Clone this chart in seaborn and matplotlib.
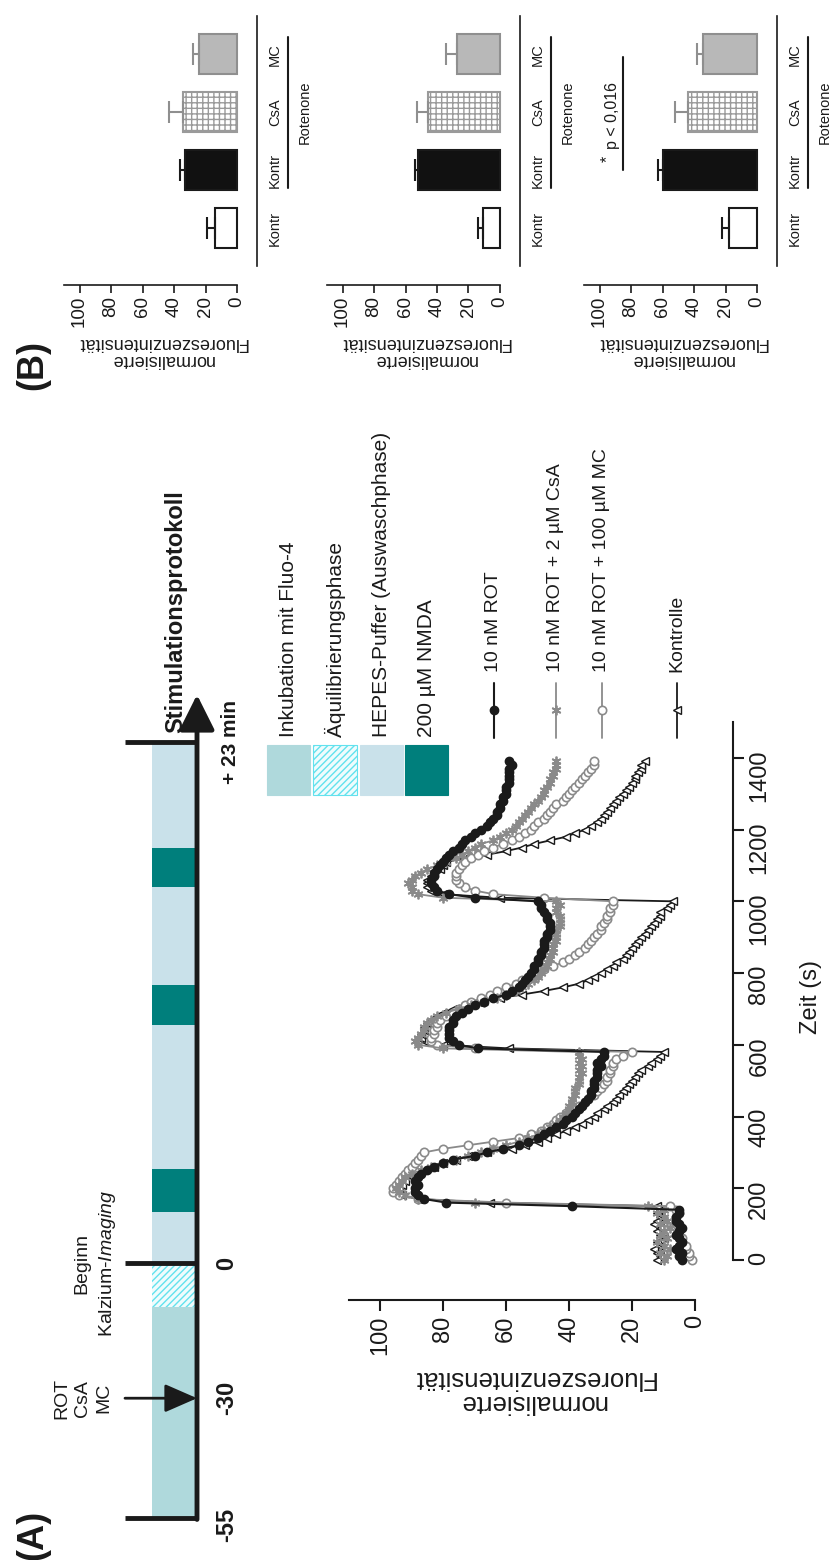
import numpy as np
import pandas as pd
import matplotlib
matplotlib.use("Agg")
import matplotlib.pyplot as plt
import seaborn as sns
from matplotlib.lines import Line2D
from matplotlib.patches import Rectangle

# ---------------------------------------------------------------- data
frame_interval = 10          # s between frames
n_frames = 140
time_s = np.arange(n_frames) * frame_interval

rot = [4, 5, 4, 6, 5, 4, 5, 6, 5, 4, 5, 6, 6, 5, 5,
       39, 79, 86, 88, 89, 89, 88, 89, 88, 87, 85, 83, 80, 77, 70,
       66, 61, 56, 53, 50, 48, 46, 44, 42, 41, 39, 38, 37, 36, 35,
       34, 33, 33, 32, 32, 32, 31, 31, 31, 30, 31, 30, 29, 29, 69,
       75, 77, 78, 78, 78, 78, 77, 77, 76, 74, 72, 70, 67, 64, 60,
       58, 56, 55, 54, 53, 52, 51, 51, 50, 50, 49, 49, 48, 48, 48,
       47, 47, 46, 46, 46, 47, 47, 48, 49, 49, 50, 70, 78, 82, 83,
       84, 84, 83, 83, 82, 81, 80, 79, 78, 77, 75, 74, 73, 71, 70,
       68, 66, 65, 64, 63, 63, 62, 62, 61, 61, 60, 60, 60, 59, 59,
       59, 59, 59, 58, 59]

rot_csa = [10, 9, 11, 8, 10, 12, 9, 11, 10, 8, 11, 9, 10, 12, 10,
           15, 70, 88, 92, 94, 95, 94, 93, 92, 90, 87, 84, 80, 76, 72,
           68, 64, 60, 56, 53, 50, 48, 46, 44, 43, 42, 41, 40, 40, 39,
           39, 38, 38, 38, 37, 37, 37, 36, 37, 36, 37, 36, 37, 37, 80,
           88, 89, 88, 87, 86, 86, 85, 84, 82, 79, 75, 71, 67, 63, 60,
           57, 55, 53, 51, 50, 49, 48, 47, 47, 46, 46, 45, 45, 45, 44,
           44, 44, 44, 43, 43, 43, 43, 44, 44, 43, 44, 80, 88, 90, 90,
           91, 90, 89, 87, 85, 82, 79, 76, 74, 72, 70, 68, 64, 62, 60,
           58, 57, 56, 55, 54, 53, 52, 51, 50, 49, 48, 48, 47, 46, 46,
           45, 45, 44, 44, 44]

rot_mc = [1, 2, 2, 3, 3, 4, 4, 5, 5, 5, 6, 6, 6, 5, 6,
          8, 60, 88, 94, 96, 96, 95, 94, 93, 92, 91, 90, 89, 88, 87,
          86, 80, 72, 64, 56, 52, 49, 47, 45, 44, 43, 41, 39, 37, 35,
          34, 32, 31, 30, 29, 28, 28, 27, 27, 26, 26, 25, 23, 20, 70,
          82, 84, 84, 83, 83, 82, 82, 81, 79, 77, 75, 73, 71, 68, 65,
          63, 60, 57, 55, 53, 51, 48, 45, 42, 40, 38, 37, 35, 34, 33,
          32, 31, 30, 30, 29, 28, 28, 27, 27, 26, 26, 48, 64, 70, 73,
          75, 76, 76, 76, 75, 74, 73, 71, 69, 67, 64, 61, 58, 56, 54,
          52, 51, 50, 48, 47, 46, 45, 44, 42, 41, 40, 39, 38, 37, 36,
          35, 34, 33, 32, 32]

kontrolle = [12, 11, 12, 13, 11, 12, 10, 11, 12, 11, 13, 12, 11, 12, 11,
             12, 65, 88, 93, 94, 94, 93, 92, 90, 88, 86, 83, 80, 76, 72,
             66, 58, 54, 50, 47, 44, 41, 38, 36, 34, 32, 31, 29, 28, 26,
             25, 24, 23, 22, 21, 20, 19, 18, 17, 15, 14, 12, 11, 10, 59,
             80, 86, 87, 87, 86, 86, 85, 84, 82, 80, 77, 73, 69, 62, 55,
             48, 42, 37, 34, 32, 30, 28, 26, 25, 23, 22, 21, 20, 19, 18,
             17, 16, 15, 14, 13, 12, 11, 11, 9, 8, 7, 62, 80, 84, 85,
             85, 85, 84, 83, 81, 80, 79, 73, 66, 60, 55, 51, 46, 41, 38,
             35, 33, 31, 30, 29, 28, 27, 26, 25, 24, 23, 22, 21, 20, 19,
             19, 18, 17, 17, 16]

series_labels = ["10 nM ROT", "10 nM ROT + 2 µM CsA",
                 "10 nM ROT + 100 µM MC", "Kontrolle"]

# stimulation protocol, schematic axis units (0 = start of calcium imaging)
protocol_phase = ["inkubation", "aequilibrierung", "hepes", "nmda", "hepes",
                  "nmda", "hepes", "nmda", "hepes"]
protocol_edges = [-675, -117, 0, 135, 250, 630, 735, 995, 1100, 1380]
protocol_ticks = [-675, -358, 0, 1380]
protocol_ticklabels = ["-55", "-30", "0", "+ 23 min"]

phase_keys = ["inkubation", "aequilibrierung", "hepes", "nmda"]
phase_labels = ["Inkubation mit Fluo-4", "Äquilibrierungsphase",
                "HEPES-Puffer (Auswaschphase)", "200 µM NMDA"]

# panel B: residual fluorescence after each stimulation
bar_groups = ["Kontrolle", "Rotenon", "Rotenon + CsA", "Rotenon + MC"]
bar_ticklabels = ["Kontr", "Kontr", "CsA", "MC"]
stim1_mean = [14, 33, 34, 24]
stim1_sem = [5, 3, 9, 4]
stim2_mean = [11, 52, 46, 27]
stim2_sem = [3, 2, 7, 7]
stim3_mean = [18, 59.5, 44, 34]
stim3_sem = [4, 3.5, 8, 4]

# ---------------------------------------------------------------- style
sns.set_theme(style="ticks")
plt.rcParams["font.family"] = ["Liberation Sans", "DejaVu Sans"]
plt.rcParams["mathtext.fontset"] = "custom"
plt.rcParams["mathtext.rm"] = "Liberation Sans"
plt.rcParams["mathtext.it"] = "Liberation Sans:italic"
plt.rcParams["hatch.linewidth"] = 1.0
plt.rcParams["axes.edgecolor"] = "#1a1a1a"
INK = "#1a1a1a"
GREY = "#8a8a8a"

phase_style = {
    "inkubation": dict(facecolor="#afd9dc", edgecolor="#afd9dc", hatch=None),
    "aequilibrierung": dict(facecolor="#effcfd", edgecolor="#62e2ee", hatch="/////"),
    "hepes": dict(facecolor="#c9e1ea", edgecolor="#c9e1ea", hatch=None),
    "nmda": dict(facecolor="#007f7c", edgecolor="#007f7c", hatch=None),
}

W, H = 837, 1560
fig = plt.figure(figsize=(W / 100, H / 100), dpi=100)


def box(x0, y0, x1, y1):
    return [x0 / W, 1 - y1 / H, (x1 - x0) / W, (y1 - y0) / H]


def fx(x):
    return x / W


def fy(y):
    return 1 - y / H


# ---------------------------------------------------------------- protocol timeline
axt = fig.add_axes(box(0, 680, 250, 1530))
axt.set_xlim(0, 250)
axt.set_ylim(-707, 1544)
axt.axis("off")
for key, y0, y1 in zip(protocol_phase, protocol_edges[:-1], protocol_edges[1:]):
    st = phase_style[key]
    axt.bar(174.5, y1 - y0, bottom=y0, width=45, color=st["facecolor"],
            edgecolor=st["edgecolor"], hatch=st["hatch"], linewidth=0)

axt.annotate("", xy=(197, 1505), xytext=(197, protocol_edges[0] - 4),
             arrowprops=dict(arrowstyle="-|>,head_length=0.6,head_width=0.3",
                             lw=3.5, color=INK, mutation_scale=36,
                             shrinkA=0, shrinkB=0))
for t in (protocol_ticks[0], protocol_ticks[2], protocol_ticks[3]):
    axt.plot([125, 197], [t, t], color=INK, lw=3.5, solid_capstyle="butt")
axt.annotate("", xy=(197, protocol_ticks[1]), xytext=(125, protocol_ticks[1]),
             arrowprops=dict(arrowstyle="-|>,head_length=0.8,head_width=0.35",
                             lw=2, color=INK, mutation_scale=25,
                             shrinkA=0, shrinkB=0))
for t, lab in zip(protocol_ticks, protocol_ticklabels):
    axt.text(227 + (4 if lab.startswith("+") else 0),
             t - (18 if lab == "-55" else 0), lab, rotation=90,
             ha="center", va="center",
             fontsize=15 if lab.startswith("+") else 17,
             fontweight="bold", color=INK)
axt.text(83, protocol_ticks[1], "ROT\nCsA\nMC", rotation=90, ha="center",
         va="center", fontsize=14, linespacing=1.3, color=INK)
axt.text(82, 0, "Beginn", rotation=90, ha="center", va="center",
         fontsize=14, color=INK)
axt.text(108, 0, "Kalzium-$\\mathit{Imaging}$", rotation=90, ha="center",
         va="center", fontsize=14, color=INK)

fig.text(fx(176), fy(733), "Stimulationsprotokoll", rotation=90,
         rotation_mode="anchor", ha="left", va="center", fontsize=17,
         fontweight="bold", color=INK)

# phase key
sq_x = [(267, 310), (313, 357), (360, 403), (405, 448)]
for key, lab, (x0, x1) in zip(phase_keys, phase_labels, sq_x):
    st = phase_style[key]
    fig.add_artist(Rectangle((fx(x0), fy(795)), (x1 - x0) / W, 50 / H,
                             transform=fig.transFigure, facecolor=st["facecolor"],
                             edgecolor=st["edgecolor"], hatch=st["hatch"],
                             linewidth=0.8))
    fig.text(fx((x0 + x1) / 2), fy(737), lab, rotation=90, rotation_mode="anchor",
             ha="left", va="center", fontsize=15, color=INK)

fig.text(fx(33), fy(1535), "(A)", rotation=90, ha="center", va="center",
         fontsize=26, fontweight="bold", color=INK)
fig.text(fx(33), fy(365), "(B)", rotation=90, ha="center", va="center",
         fontsize=26, fontweight="bold", color=INK)

# ---------------------------------------------------------------- calcium traces
series_style = {
    "Kontrolle": dict(color=INK, marker="<", markersize=5.5, markerfacecolor="white",
                      markeredgecolor=INK, markeredgewidth=1.0, linewidth=1.3),
    "10 nM ROT + 100 µM MC": dict(color=GREY, marker="o", markersize=6,
                                  markerfacecolor="white", markeredgecolor=GREY,
                                  markeredgewidth=1.2, linewidth=1.3),
    "10 nM ROT + 2 µM CsA": dict(color=GREY, marker=(6, 2, 0), markersize=7,
                                 markerfacecolor=GREY, markeredgecolor=GREY,
                                 markeredgewidth=1.3, linewidth=1.3),
    "10 nM ROT": dict(color=INK, marker="o", markersize=6, markerfacecolor=INK,
                      markeredgecolor=INK, markeredgewidth=1.0, linewidth=1.5),
}
series_values = {"10 nM ROT": rot, "10 nM ROT + 2 µM CsA": rot_csa,
                 "10 nM ROT + 100 µM MC": rot_mc, "Kontrolle": kontrolle}

ax = fig.add_axes(box(348, 722, 733, 1300))
for name in ["Kontrolle", "10 nM ROT + 100 µM MC", "10 nM ROT + 2 µM CsA", "10 nM ROT"]:
    sns.lineplot(x=series_values[name], y=time_s, orient="y", sort=False,
                 estimator=None, ax=ax, legend=False, **series_style[name])

ax.set_xlim(110.2, -12.06)
ax.set_ylim(-111.6, 1500)
ax.spines["left"].set_visible(False)
ax.spines["top"].set_visible(False)
ax.spines["right"].set_visible(True)
ax.spines["bottom"].set_bounds(0, 110)
ax.spines["right"].set_bounds(0, 1500)
for s in ("bottom", "right"):
    ax.spines[s].set_linewidth(1.5)
ax.yaxis.tick_right()
ax.set_xticks(range(0, 101, 20))
ax.set_yticks(range(0, 1401, 200))
ax.tick_params(axis="x", length=8, width=1.5, labelsize=17, labelrotation=90,
               pad=3, colors=INK)
ax.tick_params(axis="y", length=8, width=1.5, labelsize=17, labelrotation=90,
               pad=3, colors=INK)
ax.set_xlabel("")
ax.set_ylabel("")

fig.text(fx(533), fy(1390), "normalisierte\nFluoreszenzintensität", rotation=180,
         ha="center", va="center", fontsize=18.5, linespacing=1.0, color=INK)
fig.text(fx(811), fy(997), "Zeit (s)", rotation=90, ha="center", va="center",
         fontsize=17, color=INK)

# series key
key_x = {"10 nM ROT": 494, "10 nM ROT + 2 µM CsA": 556,
         "10 nM ROT + 100 µM MC": 602, "Kontrolle": 677}
for name in series_labels:
    st = series_style[name]
    x = fx(key_x[name])
    fig.add_artist(Line2D([x, x], [fy(683), fy(738)], transform=fig.transFigure,
                          color=st["color"], lw=st["linewidth"]))
    fig.add_artist(Line2D([x], [fy(710)], transform=fig.transFigure, linestyle="none",
                          marker=st["marker"], markersize=st["markersize"],
                          markerfacecolor=st["markerfacecolor"],
                          markeredgecolor=st["markeredgecolor"],
                          markeredgewidth=st["markeredgewidth"]))
    fig.text(x, fy(672), name, rotation=90, rotation_mode="anchor", ha="left",
             va="center", fontsize=14, color=INK)

# ---------------------------------------------------------------- panel B bars
bar_faces = ["white", "#111111", "white", "#b8b8b8"]
bar_edges = [INK, INK, "#9a9a9a", "#8f8f8f"]
bar_hatches = [None, None, "+++", None]
err_colors = [INK, INK, "#8f8f8f", "#8f8f8f"]
PX = 1.575


def draw_bars(x_zero, means, sems, significance=False):
    axb = fig.add_axes(box(x_zero - 115 * PX, 2, x_zero + 12.7 * PX, 285))
    df = pd.DataFrame({"gruppe": bar_groups, "wert": means})
    sns.barplot(data=df, x="wert", y="gruppe", hue="gruppe",
                palette=dict(zip(bar_groups, bar_faces)), orient="h",
                width=0.68, ax=axb, legend=False, errorbar=None, saturation=1)
    for patch, ec, hatch in zip(axb.patches, bar_edges, bar_hatches):
        patch.set_edgecolor(ec)
        patch.set_hatch(hatch)
        patch.set_linewidth(1.5)
    for i, (m, e) in enumerate(zip(means, sems)):
        axb.errorbar(m, i, xerr=[[0], [e]], fmt="none", ecolor=err_colors[i],
                     elinewidth=1.5, capsize=8, capthick=1.5)
    axb.set_xlim(115, -12.7)
    axb.set_ylim(-0.98, 3.9)
    axb.spines["left"].set_visible(False)
    axb.spines["top"].set_visible(False)
    axb.spines["right"].set_visible(True)
    axb.spines["bottom"].set_bounds(0, 110)
    axb.spines["right"].set_bounds(-0.65, 3.65)
    for s in ("bottom", "right"):
        axb.spines[s].set_linewidth(1.2)
    axb.set_yticks([])
    axb.set_xticks(range(0, 101, 20))
    axb.tick_params(axis="x", length=6, width=1.2, labelsize=13.5,
                    labelrotation=90, pad=2, colors=INK)
    axb.set_xlabel("")
    axb.set_ylabel("")
    for i, lab in enumerate(bar_ticklabels):
        axb.text(-24, i, lab, rotation=90, ha="center", va="center",
                 fontsize=10.5, color=INK, clip_on=False)
    axb.plot([-32.4, -32.4], [0.7, 3.3], color=INK, lw=1.5, clip_on=False)
    axb.text(-43, 2, "Rotenone", rotation=90, ha="center", va="center",
             fontsize=10.5, color=INK, clip_on=False)
    if significance:
        axb.plot([85, 85], [1.0, 2.95], color=INK, lw=1.5)
        axb.text(92, 1.95, "p < 0,016", rotation=90, ha="center", va="center",
                 fontsize=11.5, color=INK)
        axb.text(95, 1.2, "*", rotation=90, ha="center", va="center",
                 fontsize=11.5, color=INK)
    fig.text(fx(x_zero - 75), fy(351), "normalisierte\nFluoreszenzintensität",
             rotation=180, ha="center", va="center", fontsize=13,
             linespacing=1.05, color=INK)
    return axb


draw_bars(237, stim1_mean, stim1_sem)
draw_bars(500, stim2_mean, stim2_sem)
draw_bars(757, stim3_mean, stim3_sem, significance=True)

fig.savefig("out.png", dpi=100, facecolor="white")
